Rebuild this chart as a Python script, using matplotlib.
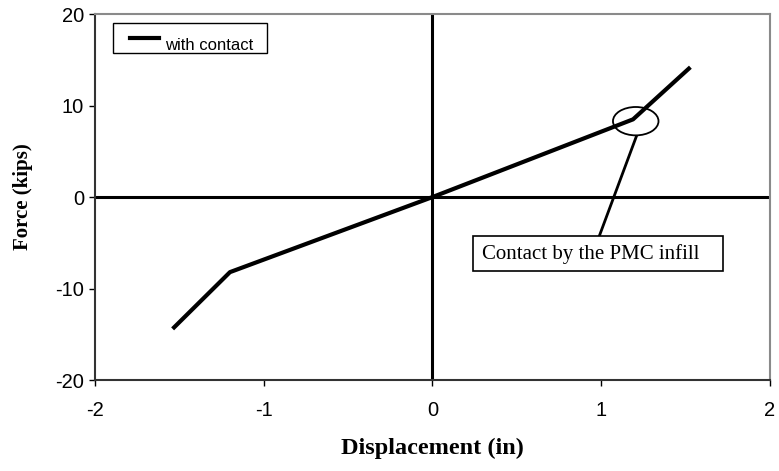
import matplotlib.pyplot as plt
from matplotlib.patches import Ellipse, Rectangle
from matplotlib.lines import Line2D

plt.rcParams["axes.unicode_minus"] = False

# force-displacement curve with contact
disp = [-1.54, -1.2, 0.0, 1.19, 1.53]
force = [-14.4, -8.2, 0.0, 8.5, 14.2]

x_ticks = [-2, -1, 0, 1, 2]
y_ticks = [-20, -10, 0, 10, 20]

fig = plt.figure(figsize=(7.79, 4.71), dpi=100)
ax = fig.add_axes([0.122, 0.193, 0.866, 0.777])

ax.plot(disp, force, color="black", lw=3, solid_capstyle="butt")
ax.axhline(0, color="black", lw=2.2, zorder=1)
ax.axvline(0, color="black", lw=2.2, zorder=1)

ax.set_xlim(-2, 2)
ax.set_ylim(-20, 20)
ax.set_xticks(x_ticks)
ax.set_yticks(y_ticks)
ax.tick_params(direction="out", length=4, width=1, labelsize=14.5)
ax.tick_params(axis="x", pad=11)
ax.tick_params(axis="y", pad=4)
for lab in ax.get_xticklabels() + ax.get_yticklabels():
    lab.set_family("Liberation Sans")
for side in ["top", "right"]:
    ax.spines[side].set_color("#8a8a8a")
    ax.spines[side].set_linewidth(1.5)
for side in ["left", "bottom"]:
    ax.spines[side].set_color("#333333")
    ax.spines[side].set_linewidth(1.5)

ax.set_xlabel("Displacement (in)", family="Liberation Serif", fontweight="bold",
              fontsize=17.5, labelpad=13)
ax.set_ylabel("Force (kips)", family="Liberation Serif", fontweight="bold",
              fontsize=15, labelpad=16)

# legend box drawn by hand (text sits a little below the line sample)
ax.add_patch(Rectangle((0.027, 0.893), 0.228, 0.082, transform=ax.transAxes,
                       fill=False, ec="black", lw=1, zorder=5))
ax.add_line(Line2D([0.052, 0.095], [0.934, 0.934], transform=ax.transAxes,
                   color="black", lw=3, zorder=5))
ax.text(0.104, 0.915, "with contact", transform=ax.transAxes, ha="left",
        va="center", family="Liberation Sans", fontsize=12, zorder=5)

# circle around the contact point and its callout
ax.add_patch(Ellipse((1.206, 8.3), 0.27, 3.1, fill=False, color="black", lw=1.3))
ax.plot([1.209, 0.99], [6.6, -4.25], color="black", lw=2)
ax.add_patch(Rectangle((0.241, -8.09), 1.483, 3.86, fill=True, fc="white",
                       ec="black", lw=1.2, zorder=4))
ax.text(0.939, -6.2, "Contact by the PMC infill", ha="center", va="center",
        family="Liberation Serif", fontsize=15, zorder=5)

fig.savefig("out.png", dpi=100)
